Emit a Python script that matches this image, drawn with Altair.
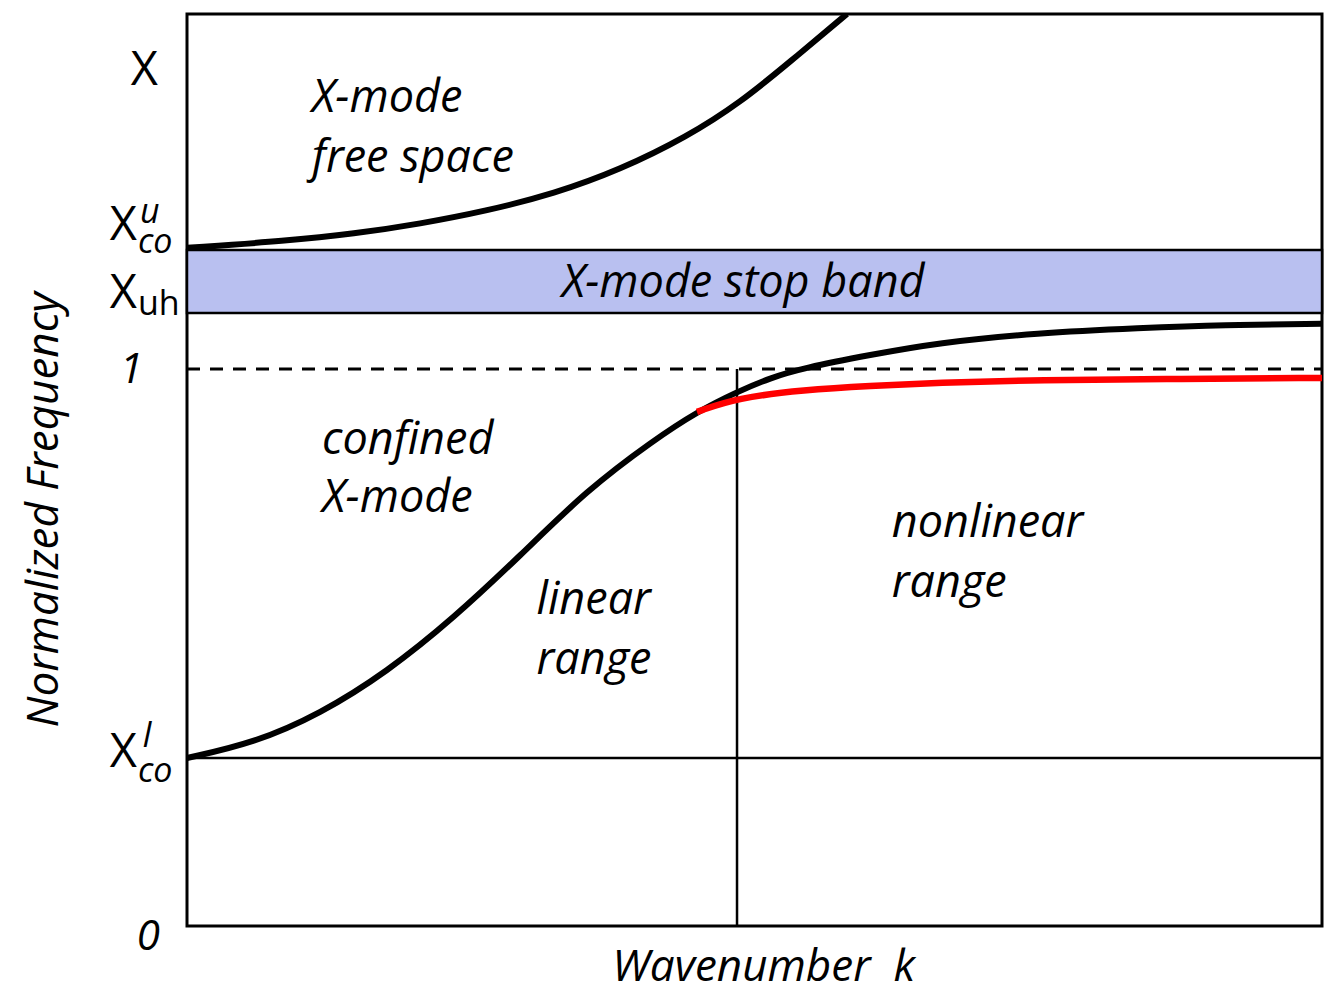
import altair as alt
import pandas as pd

# Lower (confined X-mode) branch, black
k_lower = [0.0, 0.0590, 0.1172, 0.1762, 0.2352, 0.2934, 0.3524, 0.4115, 0.4493, 0.4846,
           0.5137, 0.5436, 0.6018, 0.6608, 0.7489, 0.8405, 0.9128, 1.0]
f_lower = [0.3016, 0.3285, 0.3806, 0.4560, 0.5530, 0.6643, 0.7828, 0.8725, 0.9228, 0.9587,
           0.9838, 1.0018, 1.0251, 1.0467, 1.0646, 1.0736, 1.0790, 1.0808]
# Red nonlinear branch
k_red = [0.4493, 0.4846, 0.5436, 0.6018, 0.6608, 0.7489, 0.8767, 1.0]
f_red = [0.9228, 0.9479, 0.9623, 0.9695, 0.9749, 0.9803, 0.9820, 0.9838]
# Upper (free space) branch
k_upper = [0.0, 0.0881, 0.1471, 0.2053, 0.2643, 0.3233, 0.3815, 0.4405, 0.4872, 0.5313, 0.5815]
f_upper = [1.2172, 1.2298, 1.2424, 1.2603, 1.2837, 1.3142, 1.3573, 1.4165, 1.4776, 1.5512, 1.6373]

X_CO_L = 0.3016
X_UH = 1.1005
X_CO_U = 1.2136
K_SPLIT = 0.4846
F_TOP = 1.637

FONT = "Open Sans"

xs = alt.Scale(domain=[0, 1], nice=False, zero=False)
ys = alt.Scale(domain=[0, F_TOP], nice=False, zero=False)
X = lambda f: alt.X(f, type="quantitative", scale=xs, axis=None)
Y = lambda f: alt.Y(f, type="quantitative", scale=ys, axis=None)

band = alt.Chart(pd.DataFrame({"x": [0.0], "x2": [1.0], "y": [X_UH], "y2": [X_CO_U]})).mark_rect(
    fill="#b9c0f0", stroke="black", strokeWidth=2.5
).encode(x=X("x"), x2="x2", y=Y("y"), y2="y2")

hline = alt.Chart(pd.DataFrame({"x": [0.0], "x2": [1.0], "y": [X_CO_L]})).mark_rule(
    color="black", strokeWidth=2.5
).encode(x=X("x"), x2="x2", y=Y("y"))

dash = alt.Chart(pd.DataFrame({"x": [0.0], "x2": [1.0], "y": [1.0]})).mark_rule(
    color="black", strokeWidth=3, strokeDash=[13, 10]
).encode(x=X("x"), x2="x2", y=Y("y"))

vline = alt.Chart(pd.DataFrame({"x": [K_SPLIT], "y": [0.0], "y2": [1.0]})).mark_rule(
    color="black", strokeWidth=2.5
).encode(x=X("x"), y=Y("y"), y2="y2")

lower = alt.Chart(pd.DataFrame({"k": k_lower, "f": f_lower})).mark_line(
    color="black", strokeWidth=6, interpolate="basis"
).encode(x=X("k"), y=Y("f"), order="k:Q")

upper = alt.Chart(pd.DataFrame({"k": k_upper, "f": f_upper})).mark_line(
    color="black", strokeWidth=6, interpolate="basis", clip=True
).encode(x=X("k"), y=Y("f"), order="k:Q")

red = alt.Chart(pd.DataFrame({"k": k_red, "f": f_red})).mark_line(
    color="#ff0000", strokeWidth=6.5, interpolate="basis"
).encode(x=X("k"), y=Y("f"), order="k:Q")

# Region annotations (italic)
ann_text = ["X-mode", "free space", "confined", "X-mode", "linear", "range", "nonlinear", "range"]
ann_x = [0.110, 0.110, 0.119, 0.119, 0.308, 0.308, 0.621, 0.621]
ann_y = [1.487, 1.379, 0.8725, 0.768, 0.585, 0.478, 0.7235, 0.616]
ann = alt.Chart(pd.DataFrame({"x": ann_x, "y": ann_y, "t": ann_text})).mark_text(
    font=FONT, fontSize=45, fontStyle="italic", align="left", baseline="middle", color="black"
).encode(x=X("x"), y=Y("y"), text="t")

band_lbl = alt.Chart(pd.DataFrame({"x": [0.490], "y": [1.154], "t": ["X-mode stop band"]})).mark_text(
    font=FONT, fontSize=45, fontStyle="italic", align="center", baseline="middle", color="black"
).encode(x=X("x"), y=Y("y"), text="t")

# Y tick-like labels: big upright X's
bigx_text = ["X", "X", "X", "X"]
bigx_x = [-0.0256, -0.0441, -0.0441, -0.0441]
bigx_y = [1.510, 1.2316, 1.1095, 0.2855]
bigx = alt.Chart(pd.DataFrame({"x": bigx_x, "y": bigx_y, "t": bigx_text})).mark_text(
    font=FONT, fontSize=47, align="right", baseline="alphabetic", color="black"
).encode(x=X("x"), y=Y("y"), text="t")

# italic sub/superscripts
sub_text = ["co", "u", "co", "l"]
sub_x = [-0.0432, -0.0414, -0.0432, -0.0390]
sub_y = [1.2083, 1.2621, 0.2585, 0.3214]
subs = alt.Chart(pd.DataFrame({"x": sub_x, "y": sub_y, "t": sub_text})).mark_text(
    font=FONT, fontSize=34, fontStyle="italic", align="left", baseline="alphabetic", color="black"
).encode(x=X("x"), y=Y("y"), text="t")

uh = alt.Chart(pd.DataFrame({"x": [-0.0432], "y": [1.0969], "t": ["uh"]})).mark_text(
    font=FONT, fontSize=34, align="left", baseline="alphabetic", color="black"
).encode(x=X("x"), y=Y("y"), text="t")

num_text = ["1", "0"]
num_x = [-0.0388, -0.0238]
num_y = [0.975, -0.043]
nums = alt.Chart(pd.DataFrame({"x": num_x, "y": num_y, "t": num_text})).mark_text(
    font=FONT, fontSize=42, fontStyle="italic", align="right", baseline="alphabetic", color="black"
).encode(x=X("x"), y=Y("y"), text="t")

ytitle = alt.Chart(pd.DataFrame({"x": [-0.125], "y": [0.747], "t": ["Normalized Frequency"]})).mark_text(
    font=FONT, fontSize=44, fontStyle="italic", align="center", baseline="middle", angle=270, color="black"
).encode(x=X("x"), y=Y("y"), text="t")

xtitle = alt.Chart(pd.DataFrame({"x": [0.508], "y": [-0.0754], "t": ["Wavenumber\u00a0\u00a0k"]})).mark_text(
    font=FONT, fontSize=44, fontStyle="italic", align="center", baseline="middle", color="black"
).encode(x=X("x"), y=Y("y"), text="t")

chart = alt.layer(
    band, hline, dash, vline, lower, upper, red, ann, band_lbl, bigx, subs, uh, nums, ytitle, xtitle
).properties(
    width=1135, height=912,
    padding={"left": 179, "top": 6, "right": 9, "bottom": 74},
    autosize=alt.AutoSizeParams(type="none"),
    background="white",
).configure_view(stroke="black", strokeWidth=3)

chart.save("out.html", embed_options={"renderer": "svg", "actions": False})
